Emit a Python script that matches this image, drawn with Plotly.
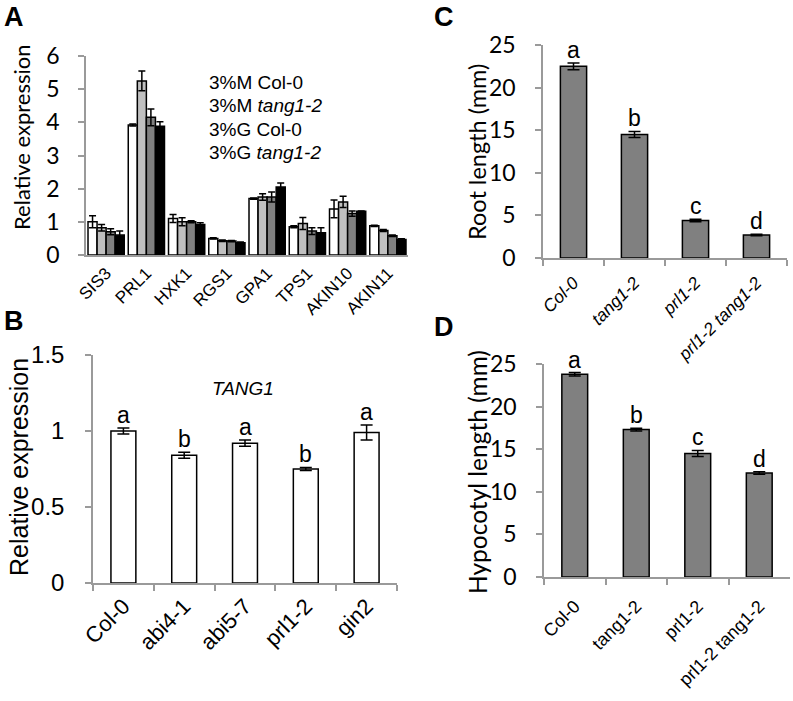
import plotly.graph_objects as go

W, H = 793, 701
FONT = "Liberation Sans, Arial, sans-serif"
CAL = "Lato, Liberation Sans, sans-serif"

# ---------------- Data ----------------
# Panel A
genes = ["SIS3", "PRL1", "HXK1", "RGS1", "GPA1", "TPS1", "AKIN10", "AKIN11"]
a_series = ["3%M Col-0", "3%M <i>tang1-2</i>", "3%G Col-0", "3%G <i>tang1-2</i>"]
a_m_col = [1.00, 3.92, 1.10, 0.50, 1.70, 0.85, 1.39, 0.88]
a_m_tang = [0.82, 5.25, 1.00, 0.43, 1.75, 0.95, 1.60, 0.74]
a_g_col = [0.70, 4.15, 1.00, 0.42, 1.75, 0.72, 1.25, 0.58]
a_g_tang = [0.60, 3.88, 0.92, 0.37, 2.05, 0.67, 1.32, 0.47]
a_m_col_err = [0.18, 0.03, 0.12, 0.02, 0.02, 0.03, 0.27, 0.02]
a_m_tang_err = [0.10, 0.30, 0.12, 0.02, 0.10, 0.18, 0.17, 0.03]
a_g_col_err = [0.09, 0.25, 0.03, 0.02, 0.15, 0.10, 0.08, 0.02]
a_g_tang_err = [0.12, 0.14, 0.05, 0.02, 0.12, 0.15, 0.01, 0.02]

# Panel B
b_lines = ["Col-0", "abi4-1", "abi5-7", "prl1-2", "gin2"]
b_vals = [1.00, 0.84, 0.92, 0.75, 0.99]
b_err = [0.02, 0.02, 0.02, 0.01, 0.05]
b_letters = ["a", "b", "a", "b", "a"]

# Panel C
c_lines = ["<i>Col-0</i>", "<i>tang1-2</i>", "<i>prl1-2</i>", "<i>prl1-2 tang1-2</i>"]
c_vals = [22.5, 14.5, 4.4, 2.7]
c_err = [0.4, 0.35, 0.15, 0.1]
c_letters = ["a", "b", "c", "d"]

# Panel D
d_lines = ["Col-0", "tang1-2", "prl1-2", "prl1-2 tang1-2"]
d_vals = [23.8, 17.3, 14.5, 12.2]
d_err = [0.2, 0.15, 0.35, 0.15]
d_letters = ["a", "b", "c", "d"]

# ---------------- Helpers ----------------
def px(x):
    return x / W

def py(y):
    return 1 - y / H

AXIS_GREY = "#9a9a9a"
fig = go.Figure()

# Panel A bars
a_colors = ["white", "#c0c0c0", "#808080", "black"]
a_vals = [a_m_col, a_m_tang, a_g_col, a_g_tang]
a_errs = [a_m_col_err, a_m_tang_err, a_g_col_err, a_g_tang_err]
for name, vals, errs, col in zip(a_series, a_vals, a_errs, a_colors):
    fig.add_trace(go.Bar(
        x=genes, y=vals, name=name, marker=dict(color=col, line=dict(color="black", width=1.5)),
        error_y=dict(type="data", array=errs, color="black", thickness=1.5, width=3.5),
        xaxis="x", yaxis="y", showlegend=False))

# Panel B
fig.add_trace(go.Bar(x=b_lines, y=b_vals, width=0.41,
                     marker=dict(color="white", line=dict(color="black", width=1.5)),
                     error_y=dict(type="data", array=b_err, color="black", thickness=1.5, width=6),
                     xaxis="x2", yaxis="y2", showlegend=False))
# Panel C
fig.add_trace(go.Bar(x=c_lines, y=c_vals, width=0.43,
                     marker=dict(color="#808080", line=dict(color="black", width=1.5)),
                     error_y=dict(type="data", array=c_err, color="black", thickness=1.5, width=6),
                     xaxis="x3", yaxis="y3", showlegend=False))
# Panel D
fig.add_trace(go.Bar(x=d_lines, y=d_vals, width=0.42,
                     marker=dict(color="#808080", line=dict(color="black", width=1.5)),
                     error_y=dict(type="data", array=d_err, color="black", thickness=1.5, width=6),
                     xaxis="x4", yaxis="y4", showlegend=False))

def xax(dom, fs, ticks=True, standoff=0):
    d = dict(domain=[px(dom[0]), px(dom[1])], showline=True, linecolor=AXIS_GREY, linewidth=1.5,
             tickangle=-45, tickfont=dict(size=fs, color="black", family=FONT), automargin=False,
             showgrid=False, zeroline=False, fixedrange=True, ticklabelstandoff=standoff)
    if ticks:
        d.update(ticks="outside", tickson="boundaries", ticklen=6, tickcolor=AXIS_GREY, tickwidth=1.5)
    else:
        d.update(ticks="")
    return d

def yax(dom, rng, dtick, fs, anchor, fam, standoff):
    return dict(domain=[py(dom[0]), py(dom[1])], range=rng, dtick=dtick, showline=True,
                linecolor=AXIS_GREY, linewidth=1.5, ticks="outside", ticklen=6, automargin=False,
                tickcolor=AXIS_GREY, tickwidth=1.5, tickfont=dict(size=fs, color="black", family=fam),
                showgrid=False, zeroline=False, anchor=anchor, fixedrange=True,
                ticklabelstandoff=standoff)

fig.update_layout(
    template="none",
    width=W, height=H, margin=dict(l=0, r=0, t=0, b=0, pad=0), autosize=False,
    paper_bgcolor="white", plot_bgcolor="white",
    font=dict(family=FONT, color="black"),
    barmode="group", bargap=0.1, bargroupgap=0, showlegend=False,
    xaxis=dict(xax((86, 408), 17, ticks=False), anchor="y"),
    yaxis=yax((255, 56), [0, 6], 1, 23, "x", CAL, 14),
    xaxis2=dict(xax((93, 397), 22), anchor="y2"),
    yaxis2=yax((583, 355), [0, 1.5], 0.5, 24, "x2", FONT, 16),
    xaxis3=dict(xax((543, 787), 17.5, standoff=6), anchor="y3"),
    yaxis3=yax((258, 45), [0, 25], 5, 23, "x3", CAL, 15),
    xaxis4=dict(xax((544, 790), 18, standoff=10), anchor="y4"),
    yaxis4=yax((577, 364), [0, 25], 5, 23, "x4", CAL, 15),
)

ann = []
# Panel letters
for lab, x, y in [("A", 14, 17), ("B", 14, 321), ("C", 444, 17), ("D", 444, 327)]:
    ann.append(dict(text=f"<b>{lab}</b>", x=px(x), y=py(y), xref="paper", yref="paper",
                    showarrow=False, font=dict(size=27, family=FONT), xanchor="center", yanchor="middle"))
# Y titles
for t, x, yc, fs, fam in [("Relative expression", 21, 137, 22, CAL),
                          ("Relative expression", 19, 467, 25, FONT),
                          ("Root length (mm)", 477, 152, 23.5, CAL),
                          ("Hypocotyl length (mm)", 477, 472, 24.5, CAL)]:
    ann.append(dict(text=t, x=px(x), y=py(yc), xref="paper", yref="paper", textangle=-90,
                    showarrow=False, font=dict(size=fs, family=fam), xanchor="center", yanchor="middle"))
# Legend text for panel A
for i, s in enumerate(a_series):
    ann.append(dict(text=s, x=px(207), y=py(82 + 23.5 * i), xref="paper", yref="paper",
                    showarrow=False, font=dict(size=19, family=FONT), xanchor="left", yanchor="middle"))
# TANG1 label
ann.append(dict(text="<i>TANG1</i>", x=px(243), y=1.28, xref="paper", yref="y2", showarrow=False,
                font=dict(size=19, family=FONT), xanchor="center", yanchor="middle"))
# Significance letters
for xs, vals, errs, lets, xr, yr in [(b_lines, b_vals, b_err, b_letters, "x2", "y2"),
                                     (c_lines, c_vals, c_err, c_letters, "x3", "y3"),
                                     (d_lines, d_vals, d_err, d_letters, "x4", "y4")]:
    for xv, v, e, l in zip(xs, vals, errs, lets):
        ann.append(dict(text=l, x=xv, y=v + e, xref=xr, yref=yr, showarrow=False,
                        font=dict(size=23, family=FONT), xanchor="center", yanchor="bottom", yshift=-2))
fig.update_layout(annotations=ann)

fig.write_html("out.html", config={"displayModeBar": False},
               post_script="document.body.style.margin='0';document.body.style.overflow='hidden';")
